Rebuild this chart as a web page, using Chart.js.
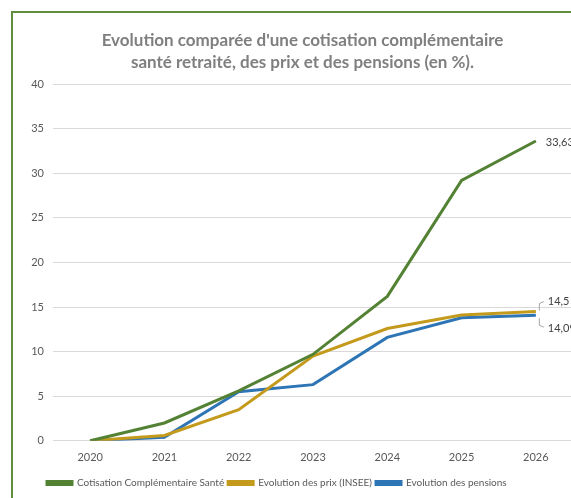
<!DOCTYPE html>
<html>
<head>
<meta charset="utf-8">
<script src="https://cdn.jsdelivr.net/npm/chart.js@4"></script>
<style>
  html, body { margin: 0; padding: 0; background: #fff; overflow: hidden; }
  #wrap { position: absolute; left: 0; top: 0; width: 590px; height: 498px; }
  #frame { position: absolute; left: 11px; top: 11px; width: 620px; height: 540px;
           border: 2px solid #5f8f3e; pointer-events: none; }
</style>
</head>
<body>
<div id="wrap"><canvas id="chart" width="590" height="498"></canvas></div>
<div id="frame"></div>
<script>
// years on the x axis
const years = ['2020', '2021', '2022', '2023', '2024', '2025', '2026'];

// % evolution since 2020
const cotisation = [0, 2.0, 5.6, 9.7, 16.2, 29.2, 33.63];
const prix = [0, 0.6, 3.5, 9.5, 12.6, 14.1, 14.5];
const pensions = [0, 0.4, 5.5, 6.3, 11.6, 13.8, 14.09];

const seriesNames = ['Cotisation Complémentaire Santé', 'Evolution des prix (INSEE)', 'Evolution des pensions'];
const colors = ['#548235', '#c49a1c', '#2e75b6'];

const yTicks = [0, 5, 10, 15, 20, 25, 30, 35, 40];

const txt = '#595959';
const fam = 'Lato, "Open Sans", sans-serif';

// nudge title and legend sideways like in the original (Excel) layout
const shiftBlocks = {
  id: 'shiftBlocks',
  afterLayout(chart) {
    if (chart.titleBlock) { chart.titleBlock.left += 16; chart.titleBlock.right += 16; }
    if (chart.legend) { chart.legend.left += 43; }
  }
};

// end-of-line value labels
const endLabels = {
  id: 'endLabels',
  afterDatasetsDraw(chart) {
    const c = chart.ctx;
    const x = chart.scales.x, y = chart.scales.y;
    const last = years.length - 1;
    const px = x.getPixelForValue(last);
    c.save();
    c.font = '11px ' + fam;
    c.fillStyle = '#404040';
    c.textBaseline = 'middle';
    c.textAlign = 'left';
    c.fillText(String(cotisation[last]).replace('.', ','), px + 10, y.getPixelForValue(cotisation[last]) + 1);

    // bracket leaders for the two close values
    const yp = y.getPixelForValue(prix[last]);
    const yq = y.getPixelForValue(pensions[last]);
    c.strokeStyle = '#a6a6a6';
    c.lineWidth = 1;
    c.beginPath();
    c.moveTo(px + 3.5, yp - 1);
    c.lineTo(px + 3.5, yp - 8);
    c.lineTo(px + 8, yp - 10);
    c.moveTo(px + 3.5, yq + 3);
    c.lineTo(px + 3.5, yq + 10);
    c.lineTo(px + 8, yq + 12);
    c.stroke();
    c.fillText(String(prix[last]).replace('.', ','), px + 12, yp - 10);
    c.fillText(String(pensions[last]).replace('.', ','), px + 12, yq + 13);
    c.restore();
  }
};

new Chart(document.getElementById('chart'), {
  type: 'line',
  data: {
    labels: years,
    datasets: [cotisation, prix, pensions].map((d, i) => ({
      label: seriesNames[i],
      data: d,
      borderColor: colors[i],
      backgroundColor: colors[i],
      borderWidth: 3,
      pointRadius: 0,
      tension: 0,
      fill: false
    }))
  },
  options: {
    responsive: false,
    animation: false,
    layout: { padding: { left: 0, right: 17, top: 0, bottom: 0 } },
    plugins: {
      title: {
        display: true,
        text: ["Evolution comparée d'une cotisation complémentaire", 'santé retraité, des prix et des pensions (en %).'],
        color: '#7f7f7f',
        font: { family: fam, size: 17, weight: 'bold', lineHeight: 1.3 },
        padding: { top: 29, bottom: 11 }
      },
      legend: {
        position: 'bottom',
        align: 'start',
        labels: {
          boxWidth: 25,
          boxHeight: 3,
          padding: 4,
          color: txt,
          font: { family: fam, size: 10 }
        }
      },
      tooltip: { enabled: false }
    },
    scales: {
      x: {
        offset: true,
        grid: { display: false, drawTicks: false },
        border: { display: false },
        ticks: { color: txt, font: { family: fam, size: 11 }, padding: 10 }
      },
      y: {
        min: 0,
        max: 40,
        afterFit: s => { s.width = 53; },
        afterBuildTicks: s => { s.ticks = yTicks.map(v => ({ value: v })); },
        grid: { color: '#d9d9d9', lineWidth: 1, drawTicks: false },
        border: { display: false },
        ticks: { color: txt, font: { family: fam, size: 11 }, padding: 9 }
      }
    }
  },
  plugins: [shiftBlocks, endLabels]
});
</script>
</body>
</html>
